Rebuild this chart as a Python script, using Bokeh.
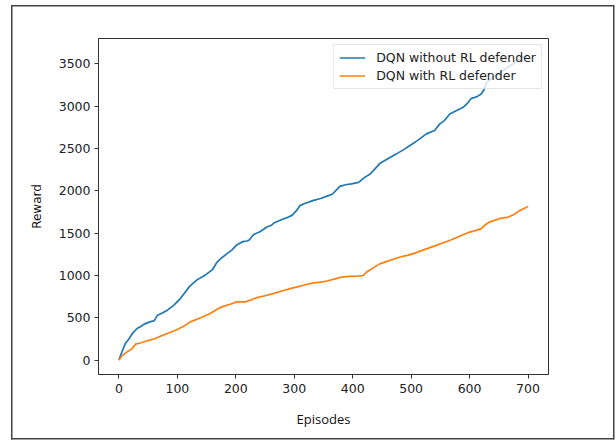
from bokeh.plotting import figure
from bokeh.models import Range1d, Legend, LegendItem, FixedTicker
from bokeh.embed import file_html
from bokeh.resources import INLINE

# ---- data ----
episodes_without = [0, 3, 11, 17, 23, 31, 38, 43, 54, 60,
                    66, 75, 83, 94, 105, 112, 120, 134, 143, 151,
                    160, 168, 176, 185, 193, 202, 212, 219, 223, 230,
                    242, 253, 260, 265, 275, 282, 290, 296, 303, 310,
                    318, 333, 345, 356, 365, 378, 390, 398, 410, 421,
                    430, 438, 447, 460, 475, 488, 498, 510, 526, 540,
                    549, 557, 566, 578, 589, 597, 603, 612, 620, 625,
                    629, 640, 657, 670, 686, 700]
reward_without = [0, 60, 197, 250, 315, 374, 400, 425, 455, 464,
                  531, 560, 590, 649, 727, 790, 865, 951, 985, 1022,
                  1070, 1159, 1210, 1258, 1300, 1364, 1400, 1407, 1420, 1482,
                  1520, 1572, 1590, 1619, 1650, 1671, 1690, 1710, 1760, 1828,
                  1850, 1887, 1910, 1938, 1960, 2052, 2075, 2083, 2100, 2162,
                  2200, 2260, 2327, 2380, 2437, 2490, 2535, 2590, 2673, 2712,
                  2791, 2830, 2909, 2950, 2987, 3040, 3093, 3110, 3145, 3200,
                  3282, 3340, 3420, 3480, 3558, 3610]

episodes_with = [0, 5, 14, 22, 28.5, 38, 48, 60, 71, 85,
                 100, 112, 122, 140, 156, 168, 176, 190, 202, 216,
                 226, 236, 250, 264, 280, 293, 305, 316, 333, 345,
                 356, 370, 381, 395, 407, 418, 424, 435, 447, 460,
                 481, 495, 504, 520, 543, 556, 569, 585, 600, 610,
                 620, 627, 634, 651, 666, 676, 686, 700]
reward_with = [0, 50, 98, 130, 189, 205, 228, 250, 283, 320,
               362, 405, 452, 500, 550, 600, 629, 660, 688, 688,
               710, 739, 760, 786, 820, 845, 865, 884, 912, 922,
               935, 960, 982, 990, 991, 1000, 1041, 1090, 1140, 1170,
               1218, 1240, 1258, 1300, 1356, 1390, 1423, 1470, 1513, 1530,
               1553, 1600, 1631, 1671, 1690, 1720, 1769, 1816]

x_ticks = [0, 100, 200, 300, 400, 500, 600, 700]
y_ticks = [0, 500, 1000, 1500, 2000, 2500, 3000, 3500]
series_labels = ["DQN without RL defender", "DQN with RL defender"]
x_label = "Episodes"
y_label = "Reward"

p = figure(width=616, height=441, output_backend="svg", toolbar_location=None,
           x_range=Range1d(-35, 735), y_range=Range1d(-170, 3800),
           min_border_left=98, min_border_right=68, min_border_top=38,
           min_border_bottom=67)

# outer picture frame drawn behind a transparent border area
line = "linear-gradient(#444444, #444444)"
p.border_fill_color = None
p.background_fill_color = "white"
p.styles = {
    "background": (f"{line} 11px 5px / 603px 1.5px no-repeat, "
                   f"{line} 11px 438px / 603px 1.5px no-repeat, "
                   f"{line} 11px 5px / 1.5px 434.5px no-repeat, "
                   f"{line} 613px 5px / 1.5px 434.5px no-repeat, white"),
}

p.xgrid.visible = False
p.ygrid.visible = False
p.outline_line_color = "#333333"
p.outline_line_width = 1
p.outline_line_alpha = 1

r1 = p.line(episodes_without, reward_without, line_color="#1f77b4", line_width=1.7)
r2 = p.line(episodes_with, reward_with, line_color="#ff7f0e", line_width=1.7)

for ax in (p.xaxis[0], p.yaxis[0]):
    ax.axis_line_color = "#333333"
    ax.major_tick_line_color = "#333333"
    ax.major_tick_in = 0
    ax.major_tick_out = 4
    ax.minor_tick_line_color = None
    ax.major_label_text_font = "DejaVu Sans"
    ax.major_label_text_font_size = "12.5px"
    ax.major_label_text_color = "#222222"

p.xaxis.ticker = FixedTicker(ticks=x_ticks)
p.yaxis.ticker = FixedTicker(ticks=y_ticks)
p.xaxis.major_label_standoff = 5
p.yaxis.major_label_standoff = 4

p.xaxis.axis_label = x_label
p.xaxis.axis_label_text_font = "Open Sans"
p.xaxis.axis_label_text_font_size = "13px"
p.xaxis.axis_label_text_font_style = "normal"
p.xaxis.axis_label_text_color = "#111111"
p.xaxis.axis_label_standoff = 14

p.yaxis.axis_label = y_label
p.yaxis.axis_label_text_font = "DejaVu Sans"
p.yaxis.axis_label_text_font_size = "12px"
p.yaxis.axis_label_text_font_style = "normal"
p.yaxis.axis_label_text_color = "#111111"
p.yaxis.axis_label_standoff = 12

legend = Legend(items=[LegendItem(label=series_labels[0], renderers=[r1]),
                       LegendItem(label=series_labels[1], renderers=[r2])],
                location="top_right", margin=6, padding=5, spacing=3,
                glyph_width=26, glyph_height=15, label_height=15,
                label_standoff=11,
                label_text_font="DejaVu Sans", label_text_font_size="12.5px",
                label_text_color="#222222",
                background_fill_alpha=0.8,
                border_line_color="#cccccc", border_line_width=1)
p.add_layout(legend)

open("out.html", "w").write(file_html(p, INLINE))
